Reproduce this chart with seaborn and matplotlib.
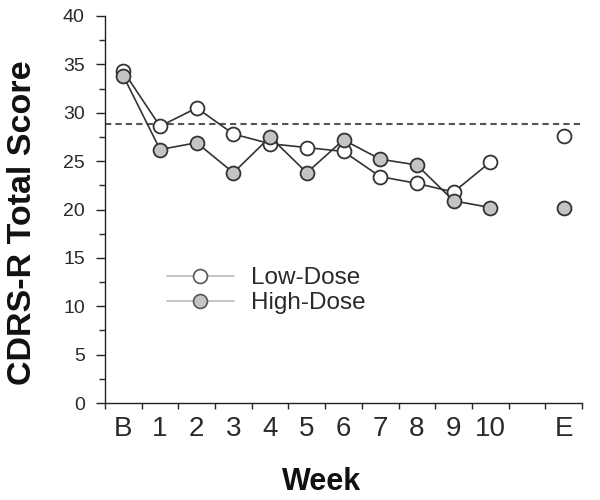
import numpy as np
import pandas as pd
import seaborn as sns
import matplotlib.pyplot as plt
from matplotlib.lines import Line2D
from matplotlib.ticker import MultipleLocator

sns.set_style("ticks")
plt.rcParams['font.family'] = ['Liberation Sans', 'DejaVu Sans']

week_labels = ["B", "1", "2", "3", "4", "5", "6", "7", "8", "9", "10", "E"]
week_pos = [0, 1, 2, 3, 4, 5, 6, 7, 8, 9, 10, 12]
low_dose = [34.3, 28.6, 30.5, 27.8, 26.8, 26.4, 26.0, 23.4, 22.7, 21.8, 24.9, 27.6]
high_dose = [33.8, 26.2, 26.9, 23.8, 27.5, 23.8, 27.2, 25.2, 24.6, 20.9, 20.2, 20.2]
threshold = 28.8

df = pd.DataFrame({"pos": week_pos * 2,
                   "score": low_dose + high_dose,
                   "group": ["Low-Dose"] * 12 + ["High-Dose"] * 12})

fill = {"Low-Dose": "white", "High-Dose": "#c4c4c4"}
edge = "#333333"

fig, ax = plt.subplots(figsize=(6, 5), dpi=100)
fig.subplots_adjust(left=0.175, right=0.97, bottom=0.194, top=0.968)

ax.axhline(threshold, color="#555555", lw=1.5, ls=(0, (3, 2)), zorder=1)

for g in ["Low-Dose", "High-Dose"]:
    sub = df[df.group == g]
    weekly = sub[sub.pos <= 10]
    end = sub[sub.pos == 12]
    sns.lineplot(data=weekly, x="pos", y="score", ax=ax, color=edge, lw=1.2,
                 marker="o", markersize=10, markerfacecolor=fill[g],
                 markeredgecolor=edge, markeredgewidth=1.3, zorder=3)
    sns.lineplot(data=end, x="pos", y="score", ax=ax, color=edge, lw=0,
                 marker="o", markersize=10, markerfacecolor=fill[g],
                 markeredgecolor=edge, markeredgewidth=1.3, zorder=3)

ax.set_xlim(-0.5, 12.5)
ax.set_ylim(0, 40)
ax.set_xticks(week_pos)
ax.set_xticklabels(week_labels)
ax.xaxis.set_minor_locator(MultipleLocator(1, offset=0.5))
ax.tick_params(axis="x", which="major", length=0, pad=9, labelsize=20)
ax.tick_params(axis="x", which="minor", length=4, width=1, direction="out")
ax.yaxis.set_major_locator(MultipleLocator(5))
ax.yaxis.set_minor_locator(MultipleLocator(2.5))
ax.tick_params(axis="y", which="major", length=6.5, width=1, labelsize=14, pad=8)
ax.tick_params(axis="y", which="minor", length=4, width=1)
ax.tick_params(colors="#222222", labelcolor="#2a2a2a")

for s in ["top", "right"]:
    ax.spines[s].set_visible(False)
for s in ["left", "bottom"]:
    ax.spines[s].set_color("#222222")
    ax.spines[s].set_linewidth(1.0)

ax.set_xlabel("Week", fontsize=22, fontweight="bold", color="#111111")
ax.xaxis.set_label_coords(0.453, -0.204)
ax.xaxis.label.set_va("center")
ax.set_ylabel("CDRS-R Total Score", fontsize=24.5, fontweight="bold", color="#111111")
ax.yaxis.set_label_coords(-0.172, 0.465)
ax.yaxis.label.set_va("center")

handles = [Line2D([], [], color="#bbbbbb", lw=1.2, marker="o", markersize=10,
                  markerfacecolor=fill[g], markeredgecolor="#555555",
                  markeredgewidth=1.2) for g in ["Low-Dose", "High-Dose"]]
ax.legend(handles, ["Low-Dose", "High-Dose"], loc="center left",
          bbox_to_anchor=(0.13, 0.29), frameon=False, fontsize=17.5,
          handlelength=2.75, handletextpad=0.7, labelspacing=0.12,
          borderpad=0, borderaxespad=0, labelcolor="#2a2a2a")

fig.savefig("out.png", dpi=100)
